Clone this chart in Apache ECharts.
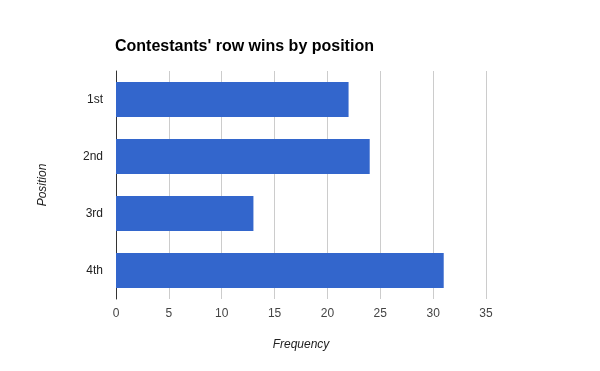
<!DOCTYPE html>
<html><head><meta charset="utf-8">
<script src="https://cdn.jsdelivr.net/npm/echarts@6/dist/echarts.min.js"></script>
<style>html,body{margin:0;padding:0;background:#fff}#c{width:600px;height:371px}</style>
</head><body><div id="c"></div>
<script>
const categories = ['1st', '2nd', '3rd', '4th'];
const frequency = [22, 24, 13, 31];
const xTicks = [0, 5, 10, 15, 20, 25, 30, 35];

const chart = echarts.init(document.getElementById('c'));
chart.setOption({
  animation: false,
  title: {
    text: "Contestants' row wins by position",
    left: 110, top: 34,
    textStyle: {fontFamily: 'Arial, Liberation Sans', fontSize: 16, fontWeight: 'bold', color: '#000'}
  },
  grid: {left: 116, right: 114, top: 71, bottom: 72},
  xAxis: {
    type: 'value', min: xTicks[0], max: xTicks[xTicks.length - 1], interval: 5,
    name: 'Frequency', nameLocation: 'middle', nameGap: 40,
    nameTextStyle: {fontFamily: 'Arial, Liberation Sans', fontSize: 12, fontStyle: 'italic', color: '#222'},
    axisLine: {show: false}, axisTick: {show: false},
    axisLabel: {fontFamily: 'Arial, Liberation Sans', fontSize: 12, color: '#444', margin: 9},
    splitLine: {show: true, lineStyle: {color: '#cccccc', width: 1}}
  },
  yAxis: {
    type: 'category', data: categories, inverse: true,
    name: 'Position', nameLocation: 'middle', nameGap: 67, nameRotate: 90,
    nameTextStyle: {fontFamily: 'Arial, Liberation Sans', fontSize: 12, fontStyle: 'italic', color: '#222'},
    axisLine: {show: true, lineStyle: {color: '#333', width: 1}},
    axisTick: {show: false},
    axisLabel: {fontFamily: 'Arial, Liberation Sans', fontSize: 12, color: '#222', margin: 13}
  },
  series: [{
    type: 'bar', data: frequency, barWidth: '61%',
    itemStyle: {color: '#3366cc'}
  }]
});
</script></body></html>
